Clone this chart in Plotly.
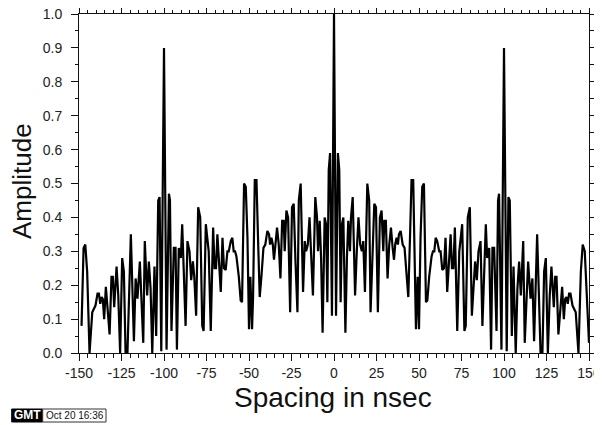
import plotly.graph_objects as go

# ---- data (Spacing in nsec, Amplitude) ----
left_spacing = [-148.5, -147.3, -146.3, -145.2, -143.8, -142.2, -141.3, -140.3, -139.1, -138.3,
                -137.5, -136.7, -136.0, -135.2, -134.2, -133.2, -132.0, -130.9, -130.1, -129.3,
                -127.9, -126.9, -125.8, -124.6, -123.6, -122.6, -121.5, -119.5, -117.7, -116.7,
                -115.6, -114.2, -113.4, -112.2, -111.3, -109.9, -108.9, -107.9, -106.9, -105.6,
                -104.6, -103.4, -102.6, -101.6, -100.0, -98.5, -97.1, -96.5, -95.6, -94.2,
                -93.2, -92.4, -91.3, -90.1, -89.3, -88.1, -87.3, -86.2, -85.0, -84.0,
                -83.0, -82.2, -81.1, -79.9, -78.7, -77.5, -76.7, -75.4, -73.7, -72.5,
                -71.1, -70.2, -69.4, -68.6, -67.8, -66.6, -65.6, -64.7, -63.7, -62.7,
                -61.9, -60.7, -59.8, -59.0, -58.2, -57.4, -56.0, -54.9, -54.1, -52.9,
                -51.9, -50.9, -50.0, -49.2, -48.2, -47.6, -46.6, -45.6, -44.7, -43.7,
                -42.7, -41.5, -40.4, -39.2, -38.2, -37.6, -36.8, -36.0, -35.3, -34.5,
                -33.5, -32.5, -31.5, -30.5, -29.6, -29.0, -28.0, -27.0, -25.8, -24.7,
                -23.7, -22.7, -21.5, -20.7, -19.6, -18.2, -17.2, -16.4, -15.4, -14.4,
                -13.4, -12.4, -11.0, -10.0, -9.4, -8.4, -7.6, -6.7, -5.5, -4.7,
                -3.9, -3.1, -2.3, -1.2]
left_amplitude = [0.08, 0.31, 0.32, 0.24, 0.0, 0.12, 0.13, 0.14, 0.175, 0.175,
                  0.145, 0.165, 0.16, 0.10, 0.195, 0.12, 0.055, 0.225, 0.225, 0.135,
                  0.255, 0.17, 0.0, 0.28, 0.24, 0.0, 0.0, 0.35, 0.035, 0.22,
                  0.16, 0.27, 0.19, 0.03, 0.33, 0.17, 0.27, 0.19, 0.0, 0.255,
                  0.05, 0.45, 0.46, 0.005, 0.90, 0.01, 0.47, 0.45, 0.065, 0.31,
                  0.31, 0.01, 0.31, 0.28, 0.38, 0.20, 0.08, 0.33, 0.30, 0.215,
                  0.27, 0.225, 0.11, 0.43, 0.40, 0.08, 0.065, 0.38, 0.30, 0.065,
                  0.37, 0.25, 0.25, 0.35, 0.29, 0.18, 0.34, 0.25, 0.245, 0.30,
                  0.30, 0.33, 0.34, 0.30, 0.30, 0.285, 0.225, 0.155, 0.15, 0.50,
                  0.49, 0.34, 0.07, 0.225, 0.07, 0.165, 0.51, 0.51, 0.34, 0.165,
                  0.225, 0.31, 0.32, 0.36, 0.35, 0.32, 0.34, 0.32, 0.275, 0.31,
                  0.37, 0.32, 0.22, 0.39, 0.39, 0.30, 0.42, 0.40, 0.12, 0.43,
                  0.44, 0.275, 0.12, 0.45, 0.50, 0.18, 0.33, 0.30, 0.32, 0.40,
                  0.30, 0.17, 0.46, 0.40, 0.30, 0.39, 0.28, 0.06, 0.40, 0.38,
                  0.15, 0.54, 0.59, 0.11]

center_spacing = [0.0]
center_amplitude = [1.0]

right_spacing = [1.2, 2.3, 3.1, 3.9, 4.7, 5.5, 6.7, 7.6, 8.4, 9.4,
                 10.0, 11.0, 12.4, 13.4, 14.4, 15.4, 16.4, 17.2, 18.2, 19.6,
                 20.7, 21.5, 22.7, 23.7, 24.7, 25.8, 27.0, 28.0, 29.0, 29.6,
                 30.5, 31.5, 32.5, 33.5, 34.5, 35.3, 36.0, 36.8, 37.6, 38.2,
                 39.2, 40.4, 41.5, 42.7, 43.7, 44.7, 45.6, 46.6, 47.6, 48.2,
                 49.2, 50.0, 50.9, 51.9, 52.9, 54.1, 54.9, 56.0, 57.4, 58.2,
                 59.0, 59.8, 60.7, 61.9, 62.7, 63.7, 64.7, 65.6, 66.6, 67.8,
                 68.6, 69.4, 70.2, 71.1, 72.5, 73.7, 75.4, 76.7, 77.5, 78.7,
                 79.9, 81.1, 82.2, 83.0, 84.0, 85.0, 86.2, 87.3, 88.1, 89.3,
                 90.1, 91.3, 92.4, 93.2, 94.2, 95.6, 96.5, 97.1, 98.5, 100.0,
                 101.6, 102.6, 103.4, 104.6, 105.6, 106.9, 107.9, 108.9, 109.9, 111.3,
                 112.2, 113.4, 114.2, 115.6, 116.7, 117.7, 119.5, 121.5, 122.6, 123.6,
                 124.6, 125.8, 126.9, 127.9, 129.3, 130.1, 130.9, 132.0, 133.2, 134.2,
                 135.2, 136.0, 136.7, 137.5, 138.3, 139.1, 140.3, 141.3, 142.2, 143.8,
                 145.2, 146.3, 147.5, 150.0]
right_amplitude = [0.11, 0.59, 0.54, 0.15, 0.38, 0.40, 0.06, 0.28, 0.39, 0.30,
                   0.40, 0.46, 0.17, 0.30, 0.40, 0.32, 0.30, 0.33, 0.18, 0.50,
                   0.45, 0.12, 0.275, 0.44, 0.43, 0.12, 0.40, 0.42, 0.30, 0.39,
                   0.39, 0.22, 0.32, 0.37, 0.31, 0.275, 0.32, 0.34, 0.32, 0.35,
                   0.36, 0.32, 0.31, 0.225, 0.165, 0.34, 0.51, 0.51, 0.165, 0.07,
                   0.225, 0.07, 0.34, 0.49, 0.50, 0.15, 0.155, 0.225, 0.285, 0.30,
                   0.30, 0.34, 0.33, 0.30, 0.30, 0.245, 0.25, 0.34, 0.18, 0.29,
                   0.35, 0.25, 0.25, 0.37, 0.065, 0.30, 0.38, 0.065, 0.08, 0.40,
                   0.43, 0.11, 0.225, 0.27, 0.215, 0.30, 0.33, 0.08, 0.20, 0.38,
                   0.28, 0.31, 0.01, 0.31, 0.31, 0.065, 0.45, 0.47, 0.01, 0.90,
                   0.005, 0.46, 0.45, 0.05, 0.255, 0.0, 0.19, 0.27, 0.17, 0.33,
                   0.03, 0.19, 0.27, 0.16, 0.22, 0.035, 0.35, 0.0, 0.0, 0.24,
                   0.28, 0.0, 0.17, 0.255, 0.135, 0.225, 0.225, 0.055, 0.12, 0.195,
                   0.10, 0.16, 0.165, 0.145, 0.175, 0.175, 0.14, 0.13, 0.12, 0.0,
                   0.24, 0.32, 0.30, 0.03]

x_ticks = [-150, -125, -100, -75, -50, -25, 0, 25, 50, 75, 100, 125, 150]
y_ticks = [0.0, 0.1, 0.2, 0.3, 0.4, 0.5, 0.6, 0.7, 0.8, 0.9, 1.0]
x_title = "Spacing in nsec"
y_title = "Amplitude"
stamp_logo = "GMT"
stamp_text = "Oct 20 16:36"

assert len(left_spacing) == len(left_amplitude)
assert len(right_spacing) == len(right_amplitude)

spacing = left_spacing + center_spacing + right_spacing
amplitude = left_amplitude + center_amplitude + right_amplitude

# ---- layout geometry (window pixels; the page body adds an 8 px offset) ----
OFF = 8
W, H = 602, 425 - OFF
L, R, T, B = 79, 589, 14, 353   # plot frame in window pixels


def px(xpix):
    return (xpix - L) / (R - L)


def py(ypix):
    return (B - ypix) / (B - T)


FONT = "Liberation Sans, Arial, Helvetica, sans-serif"

fig = go.Figure(
    go.Scatter(
        x=spacing, y=amplitude, mode="lines",
        line=dict(color="black", width=2.2),
        hoverinfo="skip",
    )
)

axis_common = dict(
    showgrid=False, zeroline=False, automargin=False,
    showline=True, linecolor="#111", linewidth=1,
    mirror="ticks", ticks="outside", ticklen=7, tickwidth=1, tickcolor="#111",
    tickfont=dict(family=FONT, size=14, color="#222"),
    ticklabeloverflow="allow",
)

fig.update_layout(
    width=W, height=H,
    margin=dict(l=L - OFF, r=(W + OFF) - R, t=T - OFF, b=(H + OFF) - B, pad=0),
    paper_bgcolor="white", plot_bgcolor="white",
    showlegend=False,
    xaxis=dict(
        range=[-150, 150], tickvals=x_ticks, ticktext=[str(v) for v in x_ticks],
        minor=dict(dtick=5, tick0=-150, ticks="outside", ticklen=3.5, tickcolor="#111"),
        **axis_common,
    ),
    yaxis=dict(
        range=[0, 1], tickvals=y_ticks, ticktext=[f"{v:.1f}" for v in y_ticks],
        minor=dict(dtick=0.05, tick0=0, ticks="outside", ticklen=3.5, tickcolor="#111"),
        ticklabelstandoff=6,
        **axis_common,
    ),
    annotations=[
        dict(text=x_title, xref="paper", yref="paper", x=px(333), y=py(397),
             xanchor="center", yanchor="middle", showarrow=False,
             font=dict(family=FONT, size=28, color="#111")),
        dict(text=y_title, xref="paper", yref="paper", x=px(22), y=py(181),
             xanchor="center", yanchor="middle", textangle=-90, showarrow=False,
             font=dict(family=FONT, size=26, color="#111")),
        dict(text="<b>" + stamp_logo + "</b>", xref="paper", yref="paper",
             x=px(27.2), y=py(415.5), xanchor="center", yanchor="middle",
             showarrow=False, font=dict(family=FONT, size=12, color="white")),
        dict(text=stamp_text, xref="paper", yref="paper",
             x=px(74.5), y=py(415.5), xanchor="center", yanchor="middle",
             showarrow=False, font=dict(family=FONT, size=10, color="#111")),
    ],
    shapes=[
        dict(type="rect", xref="paper", yref="paper",
             x0=px(11.7), x1=px(42.7), y0=py(422), y1=py(409),
             fillcolor="black", line=dict(color="black", width=1)),
        dict(type="rect", xref="paper", yref="paper",
             x0=px(42.7), x1=px(106), y0=py(422), y1=py(409),
             fillcolor="white", line=dict(color="#333", width=1)),
    ],
)

fig.write_html("out.html")
